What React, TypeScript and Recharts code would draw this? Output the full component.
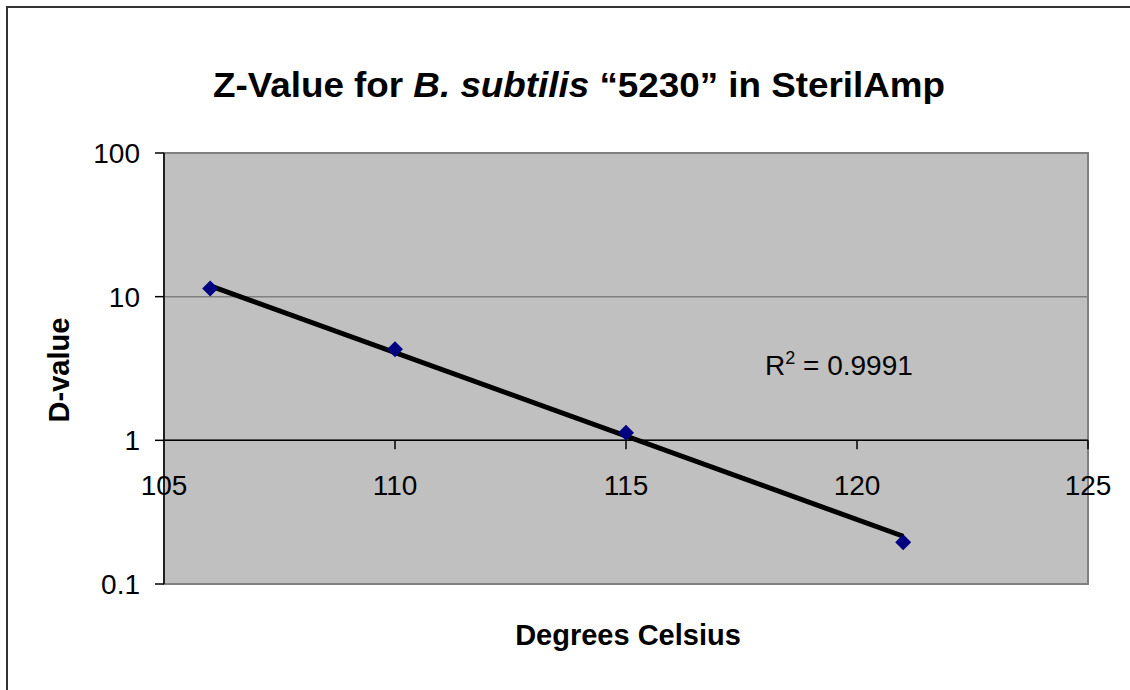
import React from 'react';
import { ComposedChart, Scatter, XAxis, YAxis, CartesianGrid, ReferenceLine, ReferenceArea } from 'recharts';

const temperatures = [106, 110, 115, 121];
const dValues = [11.4, 4.3, 1.13, 0.195];

// exponential trendline end points (straight on log axis)
const trendTemps = [106, 121];
const trendValues = [11.9, 0.215];

const xTicks = [105, 110, 115, 120, 125];
const yTicks = [0.1, 1, 10, 100];
const rSquared = '0.9991';

const W = 1130;
const H = 690;
const MARGIN = { top: 153, right: 42, bottom: 76, left: 0 };
const X_AXIS_H = 30;
const PLOT_H = H - MARGIN.top - MARGIN.bottom - X_AXIS_H;
// the x axis crosses the log y axis at 1 -> one decade above the bottom of a 3-decade range
const CROSS_OFFSET = PLOT_H / 3;

const FONT = "'Liberation Sans', Arial, sans-serif";

const points = temperatures.map((t, i) => ({ x: t, y: dValues[i] }));
const trend = trendTemps.map((t, i) => ({ x: t, y: trendValues[i] }));

const Diamond = (props: any) => {
  const { cx, cy } = props;
  const r = 8;
  return (
    <polygon
      points={`${cx},${cy - r} ${cx + r},${cy} ${cx},${cy + r} ${cx - r},${cy}`}
      fill="#000080"
    />
  );
};

const XTick = (props: any) => {
  const { x, y, payload } = props;
  const axisY = y - CROSS_OFFSET;
  return (
    <g>
      {payload.value !== 105 && (
        <line x1={x} x2={x} y1={axisY} y2={axisY + 9} stroke="#000" strokeWidth={1.5} />
      )}
      <text x={x} y={axisY + 55} textAnchor="middle" fontFamily={FONT} fontSize={28} fill="#000">
        {payload.value}
      </text>
    </g>
  );
};

const App: React.FC = () => {
  return (
    <div style={{ position: 'absolute', left: 0, top: 0, width: W, height: H, background: '#fff', overflow: 'hidden' }}>
      <div style={{ position: 'absolute', left: 6, top: 6, width: W, height: H, borderLeft: '2px solid #333', borderTop: '2px solid #333' }} />
      <ComposedChart width={W} height={H} margin={MARGIN} style={{ position: 'absolute', left: 0, top: 0 }}>
        <CartesianGrid horizontal vertical={false} fill="#C0C0C0" stroke="#808080" strokeWidth={1.5} />
        <ReferenceArea x1={105} x2={125} y1={0.1} y2={100} fill="none" stroke="#808080" strokeWidth={2} ifOverflow="visible" />
        <XAxis
          type="number"
          dataKey="x"
          domain={[105, 125]}
          ticks={xTicks}
          height={X_AXIS_H}
          axisLine={false}
          tickLine={false}
          tickSize={0}
          tickMargin={0}
          tick={<XTick />}
          allowDataOverflow
        />
        <YAxis
          type="number"
          dataKey="y"
          scale="log"
          domain={[0.1, 100]}
          ticks={yTicks}
          width={164}
          axisLine={{ stroke: '#000', strokeWidth: 1.5 }}
          tickLine={{ stroke: '#000', strokeWidth: 1.5 }}
          tickSize={9}
          tickMargin={15}
          tick={{ fontFamily: FONT, fontSize: 28, fill: '#000' }}
          tickFormatter={(v: number) => String(v)}
          allowDataOverflow
        />
        <ReferenceLine y={1} stroke="#000" strokeWidth={1.5} />
        <Scatter data={trend} line={{ stroke: '#000', strokeWidth: 5 }} shape={() => null} isAnimationActive={false} />
        <Scatter data={points} shape={<Diamond />} isAnimationActive={false} />
      </ComposedChart>
      <svg width={W} height={H} style={{ position: 'absolute', left: 0, top: 0, pointerEvents: 'none' }}>
        <text x={579} y={97} textAnchor="middle" fontFamily={FONT} fontWeight="bold" fontSize={35} textLength={732} lengthAdjust="spacingAndGlyphs" fill="#000">
          Z-Value for <tspan fontStyle="italic">B. subtilis</tspan> “5230” in SterilAmp
        </text>
        <text
          x={0}
          y={0}
          transform="translate(69 370) rotate(-90)"
          textAnchor="middle"
          fontFamily={FONT}
          fontWeight="bold"
          fontSize={29}
          fill="#000"
        >
          D-value
        </text>
        <text x={628} y={645} textAnchor="middle" fontFamily={FONT} fontWeight="bold" fontSize={29} fill="#000">
          Degrees Celsius
        </text>
        <text x={765} y={375} fontFamily={FONT} fontSize={28} fill="#000">
          R<tspan dy={-11} fontSize={18}>2</tspan>
          <tspan dy={11}> = {rSquared}</tspan>
        </text>
      </svg>
    </div>
  );
};

export default App;
